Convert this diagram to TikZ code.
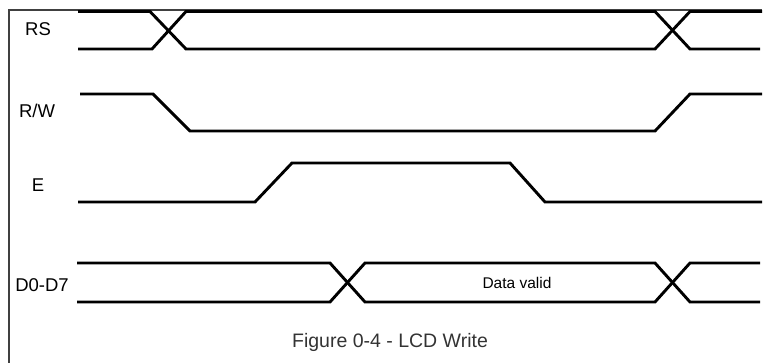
\documentclass[tikz,border=0pt]{standalone}
\usepackage{fontspec}
\setmainfont{Liberation Sans}
\begin{document}
\begin{tikzpicture}[x=1pt,y=-1pt,
  sig/.style={line width=2.9pt,line join=miter,black},
  frameline/.style={line width=1.4pt,black!75},
  lbl/.style={font=\fontsize{18.5}{18.5}\selectfont,inner sep=0pt,text=black},
  captext/.style={font=\fontsize{19.5}{20}\selectfont,inner sep=0pt,text=black!80}]
\useasboundingbox (0,0) rectangle (766,363);
% frame
\coordinate (fb) at (9,363);
\coordinate (fc) at (9,10);
\coordinate (fr) at (762,10);
\draw[frameline] (fb) -- (fc) -- (fr);
% labels
\node[lbl] (rs) at (38,29) {RS};
\node[lbl] (rw) at (37,111) {R/W};
\node[lbl] (e) at (38,185) {E};
\node[lbl] (d) at (42,285) {D0-D7};
\node[font=\fontsize{15.5}{16}\selectfont,inner sep=0pt] (dv) at (517,283) {Data valid};
\node[captext] (fig) at (390,342) {Figure 0-4 - LCD Write};
% RS
\draw[sig] (78,11.5) -- (150,11.5) -- (186,49) -- (655,49) -- (690,11.5) -- (762,11.5);
\draw[sig] (78,49) -- (152,49) -- (186,11.5) -- (655,11.5) -- (690,49) -- (760,49);
% R/W
\draw[sig] (80,94) -- (153,94) -- (190,131) -- (655,131) -- (690,94) -- (762,94);
% E
\draw[sig] (78,202) -- (255,202) -- (292,163) -- (510,163) -- (545,202) -- (762,202);
% D0-D7
\draw[sig] (77,263) -- (330,263) -- (365,302) -- (655,302) -- (690,263) -- (760,263);
\draw[sig] (77,302) -- (330,302) -- (365,263) -- (655,263) -- (690,302) -- (760,302);
\end{tikzpicture}
\end{document}
